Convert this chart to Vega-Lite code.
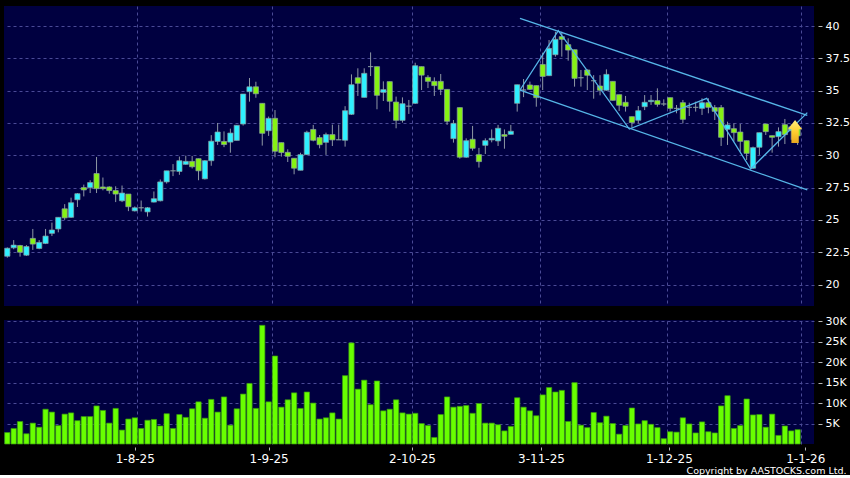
{"$schema":"https://vega.github.io/schema/vega-lite/v6.json","background":"#000000","padding":{"left":4,"top":6,"right":0,"bottom":0},"spacing":9,
"config":{"view":{"stroke":null,"fill":"#000040"},"axis":{"labelFont":"DejaVu Sans","titleFont":"DejaVu Sans","labelColor":"#ffffff","tickColor":"#b8b8b8","gridColor":"#4a4a96","gridDash":[3,3],"gridWidth":1,"domain":false,"labelOverlap":false}},
"datasets":{"bars":[
{"i":0,"o":22.19,"h":22.87,"l":22.08,"c":22.81,"v":2800},{"i":1,"o":22.84,"h":23.44,"l":22.73,"c":23.05,"v":3800},{"i":2,"o":23.02,"h":23.07,"l":22.16,"c":22.5,"v":5500},{"i":3,"o":22.27,"h":23.05,"l":22.21,"c":22.94,"v":2500},{"i":4,"o":23.57,"h":24.3,"l":22.68,"c":23.13,"v":5100},{"i":5,"o":22.79,"h":23.44,"l":22.73,"c":23.26,"v":4100},{"i":6,"o":23.18,"h":24.3,"l":23.13,"c":23.75,"v":8500},{"i":7,"o":23.96,"h":24.79,"l":23.75,"c":24.22,"v":7800},{"i":8,"o":24.3,"h":25.2,"l":24.04,"c":25.2,"v":4500},{"i":9,"o":25.86,"h":26.22,"l":25.0,"c":25.16,"v":7300},
{"i":10,"o":25.2,"h":26.72,"l":25.16,"c":26.33,"v":7600},{"i":11,"o":26.56,"h":27.08,"l":26.0,"c":27.03,"v":5700},{"i":12,"o":27.5,"h":27.73,"l":26.82,"c":27.32,"v":6700},{"i":13,"o":27.5,"h":28.07,"l":27.08,"c":27.89,"v":6700},{"i":14,"o":28.59,"h":29.87,"l":27.08,"c":27.42,"v":9300},{"i":15,"o":27.55,"h":28.28,"l":27.29,"c":27.42,"v":8200},{"i":16,"o":27.55,"h":27.6,"l":27.03,"c":27.27,"v":5100},{"i":17,"o":27.27,"h":27.6,"l":26.38,"c":27.0,"v":8700},{"i":18,"o":26.48,"h":27.66,"l":26.38,"c":27.08,"v":3400},{"i":19,"o":27.0,"h":27.0,"l":25.68,"c":26.02,"v":6100},
{"i":20,"o":25.7,"h":26.04,"l":25.65,"c":25.94,"v":6400},{"i":21,"o":25.94,"h":26.5,"l":25.65,"c":25.94,"v":3800},{"i":22,"o":25.62,"h":26.0,"l":25.26,"c":25.94,"v":5800},{"i":23,"o":26.38,"h":27.2,"l":26.35,"c":26.64,"v":6000},{"i":24,"o":26.48,"h":28.13,"l":26.43,"c":27.94,"v":4400},{"i":25,"o":27.94,"h":28.8,"l":27.81,"c":28.8,"v":7400},{"i":26,"o":28.8,"h":29.32,"l":28.39,"c":28.8,"v":3800},{"i":27,"o":28.75,"h":29.9,"l":28.49,"c":29.58,"v":7200},{"i":28,"o":29.3,"h":29.97,"l":29.27,"c":29.53,"v":6500},{"i":29,"o":29.53,"h":29.95,"l":28.98,"c":29.11,"v":8600},
{"i":30,"o":29.74,"h":29.74,"l":28.07,"c":28.8,"v":10300},{"i":31,"o":28.18,"h":29.63,"l":28.13,"c":29.58,"v":6300},{"i":32,"o":29.58,"h":31.56,"l":29.19,"c":31.09,"v":10900},{"i":33,"o":31.07,"h":32.5,"l":30.8,"c":31.8,"v":7800},{"i":34,"o":31.07,"h":31.85,"l":30.63,"c":30.83,"v":11500},{"i":35,"o":31.02,"h":32.06,"l":30.2,"c":31.72,"v":4600},{"i":36,"o":31.15,"h":32.32,"l":31.15,"c":32.32,"v":8600},{"i":37,"o":32.42,"h":34.74,"l":32.3,"c":34.74,"v":12200},{"i":38,"o":34.92,"h":35.98,"l":34.15,"c":35.3,"v":14800},{"i":39,"o":35.3,"h":35.69,"l":34.45,"c":34.76,"v":8700},
{"i":40,"o":34.02,"h":34.02,"l":30.75,"c":31.7,"v":29000},{"i":41,"o":31.9,"h":33.0,"l":31.5,"c":32.86,"v":10300},{"i":42,"o":32.86,"h":33.5,"l":29.85,"c":30.31,"v":21500},{"i":43,"o":30.98,"h":30.98,"l":29.9,"c":30.21,"v":9000},{"i":44,"o":30.23,"h":30.46,"l":29.48,"c":29.92,"v":10800},{"i":45,"o":29.77,"h":29.77,"l":28.53,"c":29.0,"v":12500},{"i":46,"o":28.84,"h":30.2,"l":28.84,"c":30.05,"v":8700},{"i":47,"o":30.05,"h":31.9,"l":30.03,"c":31.78,"v":12700},{"i":48,"o":32.0,"h":32.35,"l":31.08,"c":31.16,"v":10000},{"i":49,"o":31.37,"h":31.57,"l":30.54,"c":30.82,"v":6100},
{"i":50,"o":31.0,"h":31.75,"l":30.03,"c":31.6,"v":6400},{"i":51,"o":31.6,"h":32.37,"l":30.72,"c":31.19,"v":7600},{"i":52,"o":31.2,"h":32.37,"l":31.19,"c":31.2,"v":6100},{"i":53,"o":31.16,"h":33.8,"l":30.67,"c":33.45,"v":16700},{"i":54,"o":33.17,"h":36.26,"l":33.12,"c":35.46,"v":24700},{"i":55,"o":36.0,"h":36.73,"l":34.59,"c":35.57,"v":13400},{"i":56,"o":34.48,"h":36.73,"l":34.48,"c":36.34,"v":15600},{"i":57,"o":36.86,"h":37.96,"l":36.13,"c":36.86,"v":9600},{"i":58,"o":36.86,"h":36.86,"l":33.56,"c":34.64,"v":15400},{"i":59,"o":34.87,"h":35.72,"l":34.2,"c":35.08,"v":8100},
{"i":60,"o":35.7,"h":35.7,"l":33.38,"c":34.18,"v":8500},{"i":61,"o":34.12,"h":34.54,"l":32.09,"c":32.7,"v":10800},{"i":62,"o":32.7,"h":34.48,"l":32.53,"c":33.99,"v":7600},{"i":63,"o":33.8,"h":34.28,"l":33.2,"c":33.8,"v":7300},{"i":64,"o":34.02,"h":37.16,"l":33.97,"c":36.93,"v":7500},{"i":65,"o":36.86,"h":36.86,"l":35.05,"c":36.2,"v":5000},{"i":66,"o":36.03,"h":36.2,"l":35.2,"c":35.72,"v":4500},{"i":67,"o":35.72,"h":36.03,"l":34.59,"c":35.39,"v":1600},{"i":68,"o":35.72,"h":36.29,"l":34.66,"c":35.1,"v":7200},{"i":69,"o":35.1,"h":35.1,"l":32.35,"c":32.63,"v":11500},
{"i":70,"o":31.29,"h":32.73,"l":30.98,"c":32.47,"v":9000},{"i":71,"o":33.69,"h":33.69,"l":29.74,"c":29.85,"v":9200},{"i":72,"o":29.85,"h":31.31,"l":29.8,"c":31.13,"v":9400},{"i":73,"o":31.24,"h":32.27,"l":30.36,"c":30.54,"v":7500},{"i":74,"o":30.05,"h":30.57,"l":29.05,"c":29.51,"v":9900},{"i":75,"o":30.77,"h":31.31,"l":30.1,"c":31.13,"v":5100},{"i":76,"o":31.19,"h":32.0,"l":31.0,"c":31.31,"v":5100},{"i":77,"o":31.11,"h":32.35,"l":30.72,"c":32.09,"v":4700},{"i":78,"o":31.6,"h":32.0,"l":30.51,"c":31.47,"v":3200},{"i":79,"o":31.62,"h":32.35,"l":31.62,"c":31.86,"v":4300},
{"i":80,"o":34.02,"h":35.46,"l":33.38,"c":35.46,"v":11300},{"i":81,"o":35.05,"h":35.9,"l":34.5,"c":35.05,"v":9000},{"i":82,"o":35.44,"h":35.7,"l":35.05,"c":35.1,"v":8100},{"i":83,"o":35.39,"h":35.39,"l":33.76,"c":34.46,"v":6900},{"i":84,"o":37.03,"h":37.94,"l":35.05,"c":36.1,"v":12000},{"i":85,"o":36.16,"h":38.92,"l":36.13,"c":38.27,"v":13800},{"i":86,"o":37.78,"h":39.56,"l":37.63,"c":38.97,"v":12700},{"i":87,"o":39.18,"h":39.56,"l":37.63,"c":38.97,"v":13100},{"i":88,"o":38.56,"h":39.05,"l":37.32,"c":38.14,"v":5500},{"i":89,"o":38.17,"h":38.17,"l":35.31,"c":35.95,"v":15000},
{"i":90,"o":36.0,"h":36.6,"l":35.31,"c":36.0,"v":4600},{"i":91,"o":36.6,"h":36.65,"l":35.05,"c":36.19,"v":4000},{"i":92,"o":35.77,"h":36.2,"l":34.38,"c":35.77,"v":7700},{"i":93,"o":35.36,"h":36.2,"l":34.64,"c":35.03,"v":5200},{"i":94,"o":35.03,"h":36.65,"l":35.0,"c":36.26,"v":6800},{"i":95,"o":35.72,"h":35.72,"l":34.23,"c":34.25,"v":5000},{"i":96,"o":34.69,"h":34.69,"l":33.43,"c":33.87,"v":2400},{"i":97,"o":34.1,"h":34.59,"l":33.38,"c":33.79,"v":4500},{"i":98,"o":32.99,"h":32.99,"l":32.14,"c":32.53,"v":8800},{"i":99,"o":32.71,"h":33.81,"l":32.47,"c":33.45,"v":4900},
{"i":100,"o":33.76,"h":34.66,"l":33.5,"c":34.1,"v":5700},{"i":101,"o":34.15,"h":34.66,"l":33.9,"c":34.25,"v":4800},{"i":102,"o":34.23,"h":35.18,"l":33.76,"c":33.94,"v":4000},{"i":103,"o":33.97,"h":34.33,"l":33.81,"c":33.97,"v":1300},{"i":104,"o":34.46,"h":34.46,"l":33.38,"c":33.63,"v":3000},{"i":105,"o":33.63,"h":33.89,"l":33.25,"c":33.63,"v":2900},{"i":106,"o":34.07,"h":34.28,"l":32.47,"c":32.78,"v":6400},{"i":107,"o":33.71,"h":34.07,"l":33.04,"c":33.71,"v":4900},{"i":108,"o":33.71,"h":34.15,"l":33.38,"c":33.71,"v":2700},{"i":109,"o":33.63,"h":34.41,"l":33.12,"c":34.07,"v":5400},
{"i":110,"o":34.07,"h":34.41,"l":33.25,"c":33.71,"v":3000},{"i":111,"o":33.69,"h":33.89,"l":32.73,"c":33.4,"v":2700},{"i":112,"o":33.69,"h":33.89,"l":30.72,"c":31.39,"v":9300},{"i":113,"o":32.01,"h":32.6,"l":30.8,"c":32.35,"v":11800},{"i":114,"o":32.06,"h":32.47,"l":31.06,"c":31.75,"v":3800},{"i":115,"o":31.8,"h":32.42,"l":30.28,"c":31.08,"v":4500},{"i":116,"o":31.13,"h":31.13,"l":29.64,"c":30.15,"v":11000},{"i":117,"o":29.0,"h":30.67,"l":28.94,"c":30.59,"v":7100},{"i":118,"o":30.62,"h":31.75,"l":30.03,"c":31.75,"v":7200},{"i":119,"o":32.42,"h":32.42,"l":31.57,"c":31.83,"v":4100},
{"i":120,"o":31.52,"h":31.52,"l":30.2,"c":31.39,"v":7300},{"i":121,"o":31.44,"h":32.16,"l":30.67,"c":31.83,"v":2100},{"i":122,"o":32.37,"h":32.81,"l":30.87,"c":31.6,"v":4400},{"i":123,"o":31.9,"h":32.4,"l":31.2,"c":32.2,"v":3200},{"i":124,"o":32.1,"h":32.3,"l":30.8,"c":31.5,"v":3500}
],
"lines":[
{"s":"upper","n":0,"i":80.44,"p":40.6},{"s":"upper","n":1,"i":125.52,"p":33.09},
{"s":"lower","n":0,"i":80.44,"p":35.05},{"s":"lower","n":1,"i":125.52,"p":27.32},
{"s":"zig","n":0,"i":80.44,"p":35.05},{"s":"zig","n":1,"i":86.45,"p":39.64},{"s":"zig","n":2,"i":97.6,"p":32.03},{"s":"zig","n":3,"i":109.74,"p":34.41},{"s":"zig","n":4,"i":116.64,"p":28.94},{"s":"zig","n":5,"i":125.52,"p":33.3}
]},
"vconcat":[
{"width":810,"height":300,"layer":[
{"data":{"name":"bars"},"mark":{"type":"rule","color":"#8e98a4","strokeWidth":1},
 "encoding":{"x":{"field":"i","type":"quantitative","scale":{"domain":[-0.52,126.57],"nice":false,"zero":false,"padding":0},
   "axis":{"title":null,"labels":false,"ticks":false,"grid":true,"values":[20.39,41.53,63.5,83.53,103.5,124.5]}},
  "y":{"field":"l","type":"quantitative","scale":{"domain":[18.34,41.55],"nice":false,"zero":false},
   "axis":{"title":null,"orient":"right","values":[20,22.5,25,27.5,30,32.5,35,37.5,40],"labelExpr":"''+datum.value","labelOverlap":false,"labelBound":false,"tickCount":9,"offset":4,"tickSize":4,"labelPadding":3,"labelFontSize":11,"grid":true}},
  "y2":{"field":"h"}}},
{"data":{"name":"bars"},"mark":{"type":"bar","size":5.2,"stroke":"#8aa0a0","strokeWidth":0.7},
 "encoding":{"x":{"field":"i","type":"quantitative"},"y":{"field":"o","type":"quantitative"},"y2":{"field":"c"},
  "fill":{"condition":{"test":"datum.c>=datum.o","value":"#2ff0ff"},"value":"#86f214"}}},
{"data":{"name":"lines"},"mark":{"type":"line","color":"#56b6e8","strokeWidth":1.3,"clip":true},
 "encoding":{"x":{"field":"i","type":"quantitative"},"y":{"field":"p","type":"quantitative"},"detail":{"field":"s"},"order":{"field":"n"}}},
{"data":{"values":[{"i":123.6,"p":31.84}]},"mark":{"type":"point","filled":true,"opacity":1,"size":529,"shape":"M0,-1 L0.62,-0.2 L0.32,-0.2 L0.32,1 L-0.32,1 L-0.32,-0.2 L-0.62,-0.2 Z","fill":{"x1":0,"y1":0,"x2":0,"y2":1,"gradient":"linear","stops":[{"offset":0,"color":"#fff080"},{"offset":0.5,"color":"#ffd030"},{"offset":1,"color":"#e8a820"}]}},
 "encoding":{"x":{"field":"i","type":"quantitative"},"y":{"field":"p","type":"quantitative"}}}
]},
{"width":810,"height":124,"resolve":{"axis":{"x":"independent"}},"layer":[
{"data":{"values":[{"i":0}]},"mark":{"type":"rule","opacity":0},
 "encoding":{"x":{"field":"i","type":"quantitative","scale":{"domain":[-0.52,126.57],"nice":false,"zero":false,"padding":0},
  "axis":{"title":null,"orient":"bottom","labels":false,"ticks":false,"grid":true,"values":[20.39,41.53,63.5,83.53,103.5,124.5]}}}},
{"data":{"name":"bars"},"mark":{"type":"bar","size":5.3,"fill":"#68ff00","stroke":"#3a9a10","strokeWidth":0.7},
 "encoding":{"x":{"field":"i","type":"quantitative",
   "axis":{"orient":"bottom","grid":false,"values":[20,41,63.5,83.74,103.8,125.2],"offset":3,"tickSize":3,"labelPadding":3,"labelFontSize":12,
    "labelExpr":"datum.value==20?'1-8-25':datum.value==41?'1-9-25':datum.value==63.5?'2-10-25':datum.value==83.74?'3-11-25':datum.value==103.8?'1-12-25':'1-1-26'",
    "title":"Copyright by AASTOCKS.com Ltd.","titleColor":"#ffffff","titleFontSize":9.5,"titleFontWeight":"normal","titleAlign":"right","titleX":842,"titleY":18,"titleBaseline":"top"}},
  "y":{"field":"v","type":"quantitative","scale":{"domain":[0,30300],"nice":false},
   "axis":{"title":null,"orient":"right","values":[5000,10000,15000,20000,25000,30000],"labelExpr":"datum.value/1000+'K'","offset":4,"tickSize":4,"labelPadding":3,"labelFontSize":11,"grid":true}}}}
]}
]}
